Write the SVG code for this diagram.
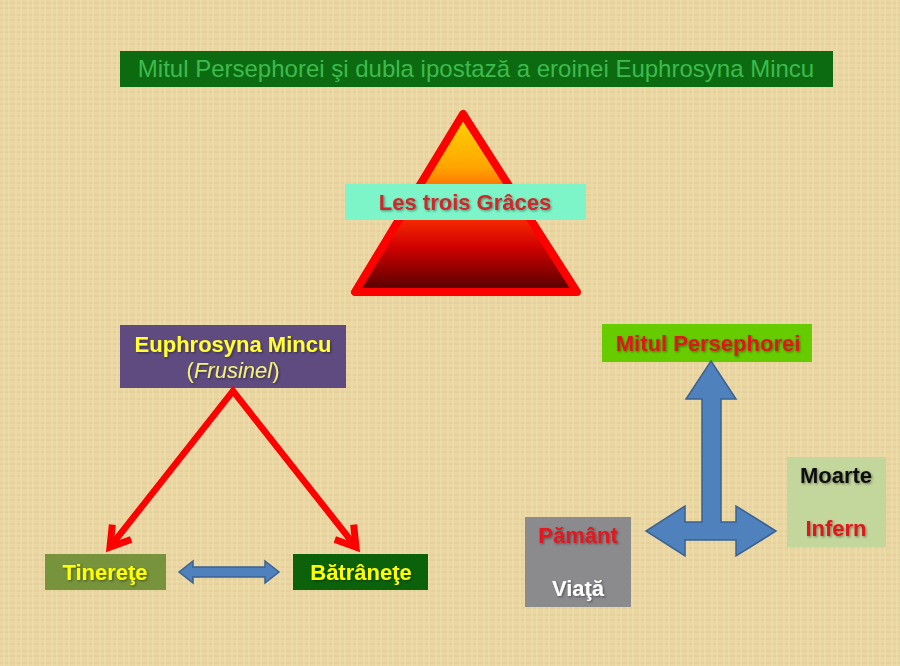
<svg xmlns="http://www.w3.org/2000/svg" width="900" height="666" viewBox="0 0 900 666">
<defs>
<style>
.t{font-family:"Liberation Sans",Arial,sans-serif;font-weight:bold;font-size:22px;text-anchor:middle;filter:url(#sh)}
.blue{fill:#4F81BD;stroke:#3A6193;stroke-width:1.5;stroke-linejoin:miter}
</style>
<filter id="sh" x="-10%" y="-30%" width="120%" height="160%">
<feDropShadow dx="1.2" dy="1.2" stdDeviation="0.8" flood-color="#000" flood-opacity="0.4"/>
</filter>
<pattern id="tex" width="12" height="12" patternUnits="userSpaceOnUse">
<rect width="12" height="12" fill="#EAD6A2"/>
<path d="M0,3H12M0,8H12" stroke="#DCC58D" stroke-width="1" opacity="0.6"/>
<path d="M4,0V12M9,0V12" stroke="#F3E4B8" stroke-width="1" opacity="0.6"/>
</pattern>
<linearGradient id="tri" x1="0" y1="0" x2="0" y2="1">
<stop offset="0" stop-color="#FFD700"/>
<stop offset="0.3" stop-color="#FFA500"/>
<stop offset="0.55" stop-color="#FF3300"/>
<stop offset="0.75" stop-color="#D00000"/>
<stop offset="1" stop-color="#500000"/>
</linearGradient>
<marker id="ah" viewBox="-30 -20 40 40" refX="0" refY="0" markerWidth="40" markerHeight="40" markerUnits="userSpaceOnUse" orient="auto-start-reverse">
<path d="M-19,-12 L0,0 L-19,12" fill="none" stroke="#FF0000" stroke-width="7" stroke-linejoin="miter" stroke-miterlimit="10"/>
</marker>
</defs>
<rect width="900" height="666" fill="url(#tex)"/>

<g id="title">
<rect x="120" y="51" width="713" height="36" fill="#0C6B10"/>
<text x="476" y="77" class="t" style="font-weight:normal;font-size:24px;fill:#3DBB4E;filter:none">Mitul Persephorei şi dubla ipostază a eroinei Euphrosyna Mincu</text>
</g>

<g id="triangle">
<path d="M463,114 L355,292 L577,292 Z" fill="url(#tri)" stroke="#FF0000" stroke-width="8" stroke-linejoin="round"/>
</g>

<g id="graces">
<rect x="345" y="184" width="241" height="36" fill="#7DF5C8"/>
<text x="465" y="210" class="t" fill="#D2262A">Les trois Grâces</text>
</g>

<g id="euphrosyna">
<rect x="120" y="325" width="226" height="63" fill="#5F4B7F"/>
<text x="233" y="352" class="t" fill="#FFFF33">Euphrosyna Mincu</text>
<text x="233" y="378" class="t" style="font-weight:normal" fill="#F2F27A">(<tspan font-style="italic">Frusinel</tspan>)</text>
</g>

<g id="tinerete">
<rect x="45" y="554" width="121" height="36" fill="#77933C"/>
<text x="105" y="580" class="t" fill="#FFFF00">Tinereţe</text>
</g>

<g id="batranete">
<rect x="293" y="554" width="135" height="36" fill="#0B620B"/>
<text x="361" y="580" class="t" fill="#FFFF00">Bătrâneţe</text>
</g>

<g id="mitul">
<rect x="602" y="324" width="210" height="38" fill="#66CC00"/>
<text x="708" y="351" class="t" fill="#E0141C">Mitul Persephorei</text>
</g>

<g id="pamant">
<rect x="525" y="517" width="106" height="90" fill="#8B8B8D"/>
<text x="578" y="543" class="t" fill="#E8141C">Pământ</text>
<text x="578" y="596" class="t" fill="#FFFFFF">Viaţă</text>
</g>

<g id="moarte">
<rect x="787" y="457" width="99" height="90" fill="#C3D69B"/>
<text x="836" y="483" class="t" fill="#111111">Moarte</text>
<text x="836" y="536" class="t" fill="#E0141C">Infern</text>
</g>

<g id="connectors">
<path d="M110,547 L233,391 L356,547" fill="none" stroke="#FF0000" stroke-width="6.5" stroke-linejoin="miter" marker-start="url(#ah)" marker-end="url(#ah)"/>
<path class="blue" d="M179,572 L193,561 L193,567 L265,567 L265,561 L279,572 L265,583 L265,577 L193,577 L193,583 Z"/>
<path class="blue" d="M711,361 L736,399 L721,399 L721,522 L736,522 L736,506 L776,531 L736,556 L736,540 L685,540 L685,556 L646,531 L685,506 L685,522 L702,522 L702,399 L686,399 Z"/>
</g>
</svg>
